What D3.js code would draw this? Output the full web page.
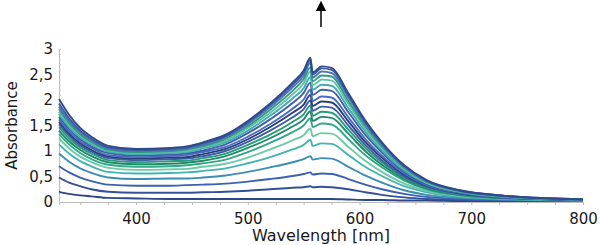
<!DOCTYPE html>
<html>
<head>
<meta charset="utf-8">
<script src="https://cdn.jsdelivr.net/npm/d3@7"></script>
<style>
  body { margin: 0; background: #fff; }
  svg text { font-family: "DejaVu Sans", Verdana, sans-serif; }
</style>
</head>
<body>
<div id="chart"></div>
<script>
const wavelengths = [331, 340, 350, 360, 375, 400, 430, 445, 460, 480, 500, 520, 540, 550, 556, 558, 566, 575, 590, 605, 620, 640, 660, 690, 730, 800];

// absorbance spectra, lowest first
const s1  = [0.20, 0.16, 0.13, 0.11, 0.08, 0.07, 0.06, 0.06, 0.06, 0.06, 0.06, 0.06, 0.06, 0.06, 0.06, 0.06, 0.06, 0.06, 0.05, 0.04, 0.04, 0.03, 0.03, 0.02, 0.02, 0.02];
const s2  = [0.48, 0.38, 0.31, 0.25, 0.20, 0.18, 0.18, 0.18, 0.19, 0.20, 0.22, 0.25, 0.28, 0.29, 0.31, 0.29, 0.30, 0.29, 0.25, 0.19, 0.14, 0.09, 0.06, 0.04, 0.03, 0.02];
const s3  = [0.70, 0.58, 0.48, 0.41, 0.34, 0.32, 0.32, 0.33, 0.34, 0.36, 0.40, 0.45, 0.51, 0.55, 0.58, 0.54, 0.56, 0.55, 0.45, 0.34, 0.25, 0.16, 0.10, 0.06, 0.04, 0.02];
const s4  = [0.95, 0.79, 0.66, 0.57, 0.48, 0.45, 0.46, 0.46, 0.48, 0.52, 0.59, 0.68, 0.78, 0.84, 0.90, 0.83, 0.86, 0.85, 0.69, 0.52, 0.38, 0.23, 0.14, 0.08, 0.05, 0.03];
const s5  = [1.13, 0.95, 0.80, 0.70, 0.59, 0.56, 0.57, 0.58, 0.61, 0.66, 0.76, 0.88, 1.03, 1.12, 1.22, 1.10, 1.15, 1.14, 0.92, 0.69, 0.51, 0.31, 0.19, 0.10, 0.06, 0.03];
const s6  = [1.25, 1.05, 0.89, 0.78, 0.67, 0.63, 0.64, 0.65, 0.69, 0.75, 0.87, 1.03, 1.21, 1.31, 1.44, 1.29, 1.35, 1.34, 1.08, 0.81, 0.59, 0.36, 0.22, 0.12, 0.07, 0.04];
const s7  = [1.33, 1.13, 0.96, 0.84, 0.73, 0.69, 0.70, 0.72, 0.76, 0.83, 0.98, 1.16, 1.37, 1.50, 1.64, 1.47, 1.54, 1.52, 1.23, 0.92, 0.68, 0.42, 0.25, 0.13, 0.07, 0.04];
const s8  = [1.40, 1.19, 1.02, 0.90, 0.78, 0.74, 0.75, 0.77, 0.81, 0.90, 1.06, 1.25, 1.48, 1.62, 1.78, 1.59, 1.67, 1.65, 1.34, 1.00, 0.73, 0.45, 0.27, 0.14, 0.08, 0.04];
const s9  = [1.47, 1.25, 1.07, 0.95, 0.82, 0.78, 0.80, 0.81, 0.86, 0.95, 1.12, 1.32, 1.57, 1.72, 1.89, 1.69, 1.77, 1.75, 1.42, 1.06, 0.78, 0.48, 0.28, 0.15, 0.08, 0.04];
const s10 = [1.52, 1.30, 1.11, 0.99, 0.86, 0.82, 0.84, 0.85, 0.90, 1.00, 1.18, 1.40, 1.66, 1.82, 1.99, 1.79, 1.87, 1.85, 1.50, 1.12, 0.82, 0.50, 0.30, 0.16, 0.08, 0.04];
const s11 = [1.57, 1.34, 1.15, 1.02, 0.89, 0.85, 0.87, 0.88, 0.94, 1.04, 1.23, 1.47, 1.75, 1.91, 2.10, 1.88, 1.97, 1.95, 1.58, 1.18, 0.87, 0.53, 0.32, 0.17, 0.09, 0.04];
const s12 = [1.62, 1.38, 1.19, 1.06, 0.92, 0.88, 0.90, 0.92, 0.98, 1.08, 1.28, 1.53, 1.83, 2.01, 2.20, 1.98, 2.07, 2.05, 1.66, 1.24, 0.91, 0.56, 0.33, 0.18, 0.09, 0.04];
const s13 = [1.67, 1.43, 1.23, 1.09, 0.96, 0.91, 0.93, 0.95, 1.01, 1.13, 1.35, 1.62, 1.94, 2.14, 2.34, 2.10, 2.20, 2.18, 1.76, 1.32, 0.97, 0.59, 0.35, 0.19, 0.10, 0.05];
const s14 = [1.72, 1.47, 1.27, 1.13, 0.99, 0.94, 0.96, 0.98, 1.05, 1.17, 1.40, 1.69, 2.03, 2.23, 2.45, 2.20, 2.30, 2.28, 1.84, 1.38, 1.01, 0.62, 0.37, 0.20, 0.10, 0.05];
const s15 = [1.77, 1.51, 1.30, 1.15, 1.01, 0.96, 0.98, 1.00, 1.08, 1.20, 1.45, 1.75, 2.11, 2.33, 2.56, 2.29, 2.40, 2.38, 1.92, 1.44, 1.06, 0.65, 0.38, 0.20, 0.11, 0.05];
const s16 = [1.82, 1.55, 1.33, 1.18, 1.03, 0.98, 1.00, 1.03, 1.10, 1.24, 1.49, 1.81, 2.18, 2.41, 2.64, 2.37, 2.48, 2.46, 1.98, 1.49, 1.09, 0.67, 0.40, 0.21, 0.11, 0.05];
const s17 = [1.87, 1.59, 1.37, 1.21, 1.05, 1.00, 1.02, 1.05, 1.12, 1.27, 1.53, 1.86, 2.25, 2.48, 2.73, 2.44, 2.56, 2.53, 2.05, 1.54, 1.13, 0.69, 0.41, 0.22, 0.12, 0.05];
const s18 = [1.93, 1.64, 1.40, 1.24, 1.07, 1.02, 1.04, 1.07, 1.15, 1.29, 1.56, 1.90, 2.30, 2.54, 2.79, 2.50, 2.62, 2.59, 2.10, 1.57, 1.15, 0.71, 0.42, 0.22, 0.12, 0.05];
const s19 = [2.02, 1.71, 1.45, 1.28, 1.10, 1.04, 1.06, 1.09, 1.17, 1.32, 1.59, 1.93, 2.34, 2.58, 2.83, 2.54, 2.66, 2.63, 2.13, 1.60, 1.17, 0.72, 0.43, 0.23, 0.12, 0.05];

const spectra = [s1, s2, s3, s4, s5, s6, s7, s8, s9, s10, s11, s12, s13, s14, s15, s16, s17, s18, s19];
const colors = ['#2c4788', '#34509a', '#3a62b0', '#3c8cb5', '#45b3b0', '#6ccaa8', '#32a884', '#1e8a68', '#2a9a78',
                '#3c5fa8', '#2a3f7a', '#4a6cc0', '#3f5faa', '#42aab0', '#5cc0a8', '#2f9c7c', '#4f73b8', '#3a5aa0', '#2f4a8c'];

const xTicks = [400, 500, 600, 700, 800];
const yTicks = [0, 0.5, 1, 1.5, 2, 2.5, 3];

const width = 600, height = 245;
const margin = {left: 59, right: 17, top: 49, bottom: 43};
const innerW = width - margin.left - margin.right;
const innerH = height - margin.top - margin.bottom;

const svg = d3.select('#chart').append('svg')
    .attr('width', width)
    .attr('height', height);

svg.append('defs').append('marker')
    .attr('id', 'arrow')
    .attr('viewBox', '0 0 10 10')
    .attr('refX', 5).attr('refY', 5)
    .attr('markerWidth', 7).attr('markerHeight', 7)
    .attr('orient', 'auto')
  .append('path')
    .attr('d', 'M0,0 L10,5 L0,10 z')
    .attr('fill', '#000');

const g = svg.append('g')
    .attr('transform', `translate(${margin.left}, ${margin.top})`);

const x = d3.scaleLinear().domain([331, 800]).range([0, innerW]);
const y = d3.scaleLinear().domain([0, 3]).range([innerH, 0]);

// minor ticks
g.append('g')
    .attr('transform', `translate(0, ${innerH})`)
    .call(d3.axisBottom(x).tickValues(d3.range(350, 801, 25)).tickSize(3).tickFormat(''))
    .call(a => a.select('.domain').attr('stroke', '#bbb'))
    .call(a => a.selectAll('.tick line').attr('stroke', '#bbb'));

g.append('g')
    .call(d3.axisRight(y).tickValues(d3.range(0, 3.01, 0.1)).tickSize(2).tickFormat(''))
    .call(a => a.select('.domain').attr('stroke', '#bbb'))
    .call(a => a.selectAll('.tick line').attr('stroke', '#ccc'));

// labels
g.append('g')
    .attr('transform', `translate(0, ${innerH})`)
    .call(d3.axisBottom(x).tickValues(xTicks).tickSize(0).tickPadding(11))
    .call(a => a.select('.domain').remove())
    .selectAll('text')
    .attr('font-size', 15)
    .attr('fill', '#1a1a1a');

g.append('g')
    .call(d3.axisLeft(y).tickValues(yTicks).tickSize(0).tickPadding(6)
        .tickFormat(d => String(d).replace('.', ',')))
    .call(a => a.select('.domain').remove())
    .selectAll('text')
    .attr('font-size', 15)
    .attr('fill', '#1a1a1a');

const line = d3.line()
    .x((d, i) => x(wavelengths[i]))
    .y(d => y(d))
    .curve(d3.curveMonotoneX);

g.append('g')
    .selectAll('path')
    .data(spectra)
    .join('path')
    .attr('d', line)
    .attr('fill', 'none')
    .attr('stroke', (d, i) => colors[i])
    .attr('stroke-width', 1.9)
    .attr('stroke-linejoin', 'round');

svg.append('text')
    .attr('transform', `translate(17, ${margin.top + innerH / 2}) rotate(-90)`)
    .attr('text-anchor', 'middle')
    .attr('font-size', 15)
    .attr('fill', '#1a1a1a')
    .text('Absorbance');

svg.append('text')
    .attr('x', margin.left + innerW / 2)
    .attr('y', 241)
    .attr('text-anchor', 'middle')
    .attr('font-size', 16)
    .attr('fill', '#1a1a1a')
    .text('Wavelength [nm]');

// arrow marking the rising band
svg.append('line')
    .attr('x1', 321).attr('x2', 321)
    .attr('y1', 27).attr('y2', 6)
    .attr('stroke', '#000')
    .attr('stroke-width', 1.5)
    .attr('marker-end', 'url(#arrow)');
</script>
</body>
</html>
